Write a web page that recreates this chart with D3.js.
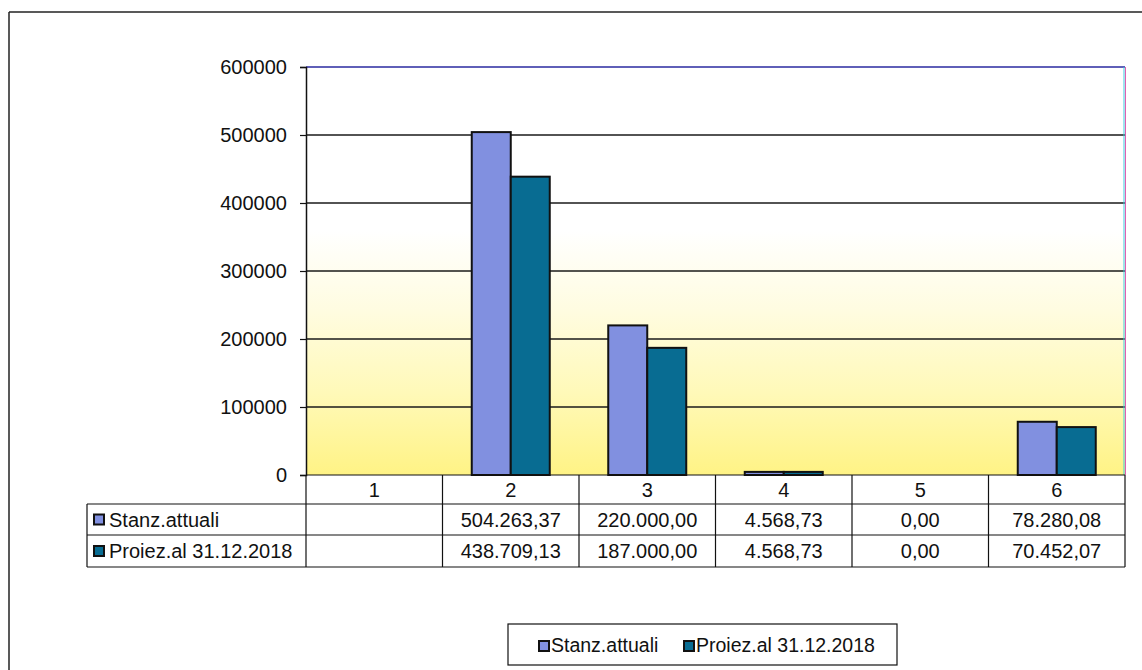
<!DOCTYPE html>
<html>
<head>
<meta charset="utf-8">
<script src="https://cdn.jsdelivr.net/npm/d3@7.9.0/dist/d3.min.js"></script>
<style>
  body { margin: 0; background: #fff; }
  svg { display: block; font-family: "Liberation Sans", Arial, sans-serif; }
</style>
</head>
<body>
<svg id="chart" width="1142" height="670"></svg>
<script>
const categories = ['1', '2', '3', '4', '5', '6'];
const seriesNames = ['Stanz.attuali', 'Proiez.al 31.12.2018'];
const stanz = [null, 504263.37, 220000.00, 4568.73, 0.00, 78280.08];
const proiez = [null, 438709.13, 187000.00, 4568.73, 0.00, 70452.07];
const yTicks = [0, 100000, 200000, 300000, 400000, 500000, 600000];

const colors = ['#8190e0', '#086c92'];
const series = [stanz, proiez];

const svg = d3.select('#chart');

// plot frame
const plotLeft = 306, plotRight = 1125, plotTop = 67, plotBottom = 475;

const x = d3.scaleBand().domain(categories).range([plotLeft, plotRight]);
const xs = d3.scaleBand().domain(d3.range(2)).range([0, x.bandwidth()])
  .paddingInner(0).paddingOuter(0.75);
const y = d3.scaleLinear().domain([0, 600000]).range([plotBottom, plotTop]);

const it = d3.formatLocale({ decimal: ',', thousands: '.', grouping: [3], currency: ['', ''] });
const fmt = it.format(',.2f');

// outer border (only top and left visible)
svg.append('line').attr('x1', 9).attr('x2', 1142).attr('y1', 12).attr('y2', 12)
  .attr('stroke', '#222').attr('stroke-width', 1.5);
svg.append('line').attr('x1', 9).attr('x2', 9).attr('y1', 12).attr('y2', 670)
  .attr('stroke', '#222').attr('stroke-width', 1.5);

// background gradient
const defs = svg.append('defs');
const grad = defs.append('linearGradient').attr('id', 'bg')
  .attr('x1', 0).attr('y1', 0).attr('x2', 0).attr('y2', 1);
[[0, '#ffffff'], [0.4, '#ffffff'], [0.6, '#fffce0'], [0.8, '#fff9b8'], [1, '#fff385']]
  .forEach(([o, c]) => grad.append('stop').attr('offset', o).attr('stop-color', c));

svg.append('rect')
  .attr('x', plotLeft).attr('y', plotTop)
  .attr('width', plotRight - plotLeft).attr('height', plotBottom - plotTop)
  .attr('fill', 'url(#bg)');

// gridlines
svg.append('g').selectAll('line')
  .data(yTicks.filter(d => d > 0 && d < 600000))
  .join('line')
  .attr('x1', plotLeft).attr('x2', plotRight)
  .attr('y1', d => y(d)).attr('y2', d => y(d))
  .attr('stroke', '#1a1a1a').attr('stroke-width', 1.5);

// top/right frame of plot
svg.append('line').attr('x1', plotLeft).attr('x2', plotRight).attr('y1', y(600000)).attr('y2', y(600000))
  .attr('stroke', '#2a2aa0').attr('stroke-width', 1.5);
svg.append('line').attr('x1', plotRight - 1).attr('x2', plotRight - 1).attr('y1', plotTop).attr('y2', plotBottom)
  .attr('stroke', '#40c8e0').attr('stroke-width', 1);
svg.append('line').attr('x1', plotRight + 0.5).attr('x2', plotRight + 0.5).attr('y1', plotTop).attr('y2', plotBottom)
  .attr('stroke', '#e060b0').attr('stroke-width', 1);

// bars
series.forEach((vals, si) => {
  svg.append('g').selectAll('rect')
    .data(categories.map((c, i) => ({ c, v: vals[i] })).filter(d => d.v !== null && d.v > 0))
    .join('rect')
    .attr('x', d => x(d.c) + xs(si))
    .attr('width', xs.bandwidth())
    .attr('y', d => y(d.v))
    .attr('height', d => y(0) - y(d.v))
    .attr('fill', colors[si])
    .attr('stroke', '#111')
    .attr('stroke-width', 2);
});

// y axis
const yAxis = d3.axisLeft(y).tickValues(yTicks).tickSize(6).tickPadding(13)
  .tickFormat(d3.format('d'));
const ga = svg.append('g').attr('transform', `translate(${plotLeft},0)`).call(yAxis);
ga.select('.domain').attr('stroke', '#111').attr('stroke-width', 1.5);
ga.selectAll('.tick line').attr('stroke', '#111').attr('stroke-width', 1.2);
ga.selectAll('.tick text').attr('font-size', 20).attr('fill', '#111')
  .attr('font-family', '"Liberation Sans", Arial, sans-serif');

// data table
const rowY = [475, 504, 535, 567];
const tableLeft = 87;
const tg = svg.append('g').attr('stroke', '#111').attr('stroke-width', 1.2);
tg.append('line').attr('x1', plotLeft).attr('x2', plotRight).attr('y1', rowY[0]).attr('y2', rowY[0]);
tg.append('line').attr('x1', tableLeft).attr('x2', plotRight).attr('y1', rowY[1]).attr('y2', rowY[1]);
tg.append('line').attr('x1', tableLeft).attr('x2', plotRight).attr('y1', rowY[2]).attr('y2', rowY[2]);
tg.append('line').attr('x1', tableLeft).attr('x2', plotRight).attr('y1', rowY[3]).attr('y2', rowY[3]);
tg.append('line').attr('x1', tableLeft).attr('x2', tableLeft).attr('y1', rowY[1]).attr('y2', rowY[3]);
categories.forEach(c => {
  tg.append('line').attr('x1', x(c)).attr('x2', x(c)).attr('y1', rowY[0]).attr('y2', rowY[3]);
});
tg.append('line').attr('x1', plotRight).attr('x2', plotRight).attr('y1', rowY[0]).attr('y2', rowY[3]);

const tt = svg.append('g').attr('font-size', 20).attr('fill', '#111');
tt.selectAll('.cat').data(categories).join('text')
  .attr('x', d => x(d) + x.bandwidth() / 2).attr('y', (rowY[0] + rowY[1]) / 2 + 7.5)
  .attr('text-anchor', 'middle').text(d => d);

series.forEach((vals, si) => {
  const cy = (rowY[si + 1] + rowY[si + 2]) / 2;
  tt.append('rect').attr('x', 94).attr('y', cy - 5).attr('width', 10).attr('height', 10)
    .attr('fill', colors[si]).attr('stroke', '#111').attr('stroke-width', 2);
  tt.append('text').attr('x', 109).attr('y', cy + 7).text(seriesNames[si]);
  tt.append('g').selectAll('text')
    .data(categories.map((c, i) => ({ c, v: vals[i] })).filter(d => d.v !== null))
    .join('text')
    .attr('x', d => x(d.c) + x.bandwidth() / 2).attr('y', cy + 7)
    .attr('text-anchor', 'middle').text(d => fmt(d.v));
});

// legend
const lg = svg.append('g').attr('font-size', 19.5).attr('fill', '#111');
lg.append('rect').attr('x', 508).attr('y', 624).attr('width', 389).attr('height', 41)
  .attr('fill', '#fff').attr('stroke', '#111').attr('stroke-width', 1.2);
const legendX = [539, 684];
seriesNames.forEach((name, si) => {
  lg.append('rect').attr('x', legendX[si]).attr('y', 641).attr('width', 10).attr('height', 10)
    .attr('fill', colors[si]).attr('stroke', '#111').attr('stroke-width', 2);
  lg.append('text').attr('x', legendX[si] + 12).attr('y', 652).text(name);
});
</script>
</body>
</html>
